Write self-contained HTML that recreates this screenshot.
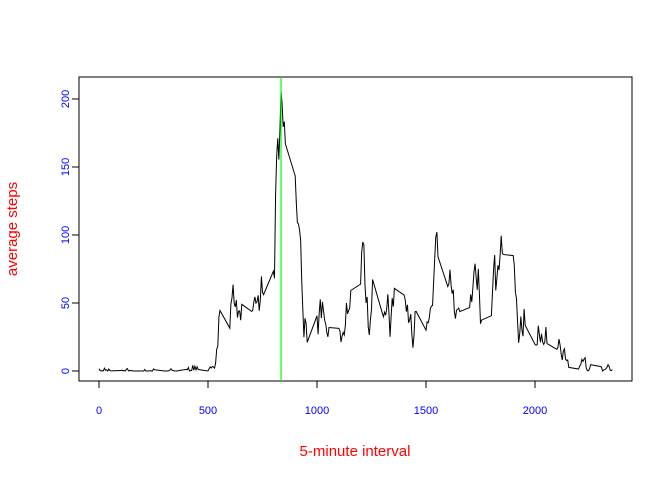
<!DOCTYPE html>
<html><head><meta charset="utf-8"><style>
body{margin:0;background:#fff;}
svg{font-family:"Liberation Sans",Arial,sans-serif;}
</style></head><body>
<svg id="chart" width="672" height="480">
<rect x="79" y="77" width="553" height="304" fill="none" stroke="#000"/>
<g id="axes"></g>
<path id="line" fill="none" stroke="#000" stroke-width="1"/>
<line id="maxline" stroke="#00ff00" stroke-width="1.2"/>
<text x="355" y="456" text-anchor="middle" fill="#ff0000" font-size="15">5-minute interval</text>
<text transform="translate(17,229) rotate(-90)" text-anchor="middle" fill="#ff0000" font-size="15">average steps</text>
</svg>
<script>
const steps=[1.717,0.340,0.132,0.151,0.075,2.094,0.528,0.868,0,1.472,0.302,0.132,0.321,0.679,0.151,0.340,0,1.113,1.830,0.170,0.170,0.377,0.264,0,0,0,1.132,0,0,0.132,0,0.226,0,0,1.547,0.943,0,0,0,0,0.208,0.623,1.623,0.585,0.491,0.075,0,0,1.189,0.943,2.566,0,0.340,0.358,4.113,0.660,3.491,0.830,3.113,1.113,0,1.566,3.000,2.245,3.321,2.962,2.094,6.057,16.019,18.340,39.453,44.491,31.491,49.264,53.774,63.453,49.962,47.075,52.151,39.340,44.019,44.170,37.358,49.038,43.811,44.377,50.509,54.509,49.925,50.981,55.679,44.321,52.264,69.547,57.849,56.151,73.377,68.208,129.434,157.528,171.151,155.396,177.302,206.170,195.925,179.566,183.396,167.019,143.453,124.038,109.113,108.113,103.717,95.962,66.208,45.226,24.792,38.755,34.981,21.057,40.566,26.981,42.415,52.660,38.925,50.792,44.283,37.415,34.698,28.340,25.094,31.943,31.358,29.679,21.321,25.547,28.377,26.472,33.434,49.981,42.038,44.604,46.038,59.189,63.868,87.698,94.849,92.774,63.396,50.170,54.472,32.415,26.528,37.736,45.057,67.283,42.340,39.887,43.264,40.981,46.245,56.434,42.755,25.132,39.962,53.547,47.321,60.811,55.755,51.962,43.585,48.698,35.472,37.547,41.849,27.509,17.113,26.075,43.623,43.774,30.019,36.075,35.491,38.849,45.962,47.755,48.132,65.321,82.906,98.660,102.113,83.962,62.132,64.132,74.547,63.170,56.906,59.774,43.868,38.566,44.660,45.453,46.208,43.679,46.623,56.302,50.717,61.226,72.717,78.943,68.943,59.660,75.094,56.509,34.774,37.453,40.679,58.019,74.698,85.321,59.264,67.774,77.698,74.245,85.340,99.453,86.585,85.604,84.868,77.830,58.038,53.358,36.321,20.717,27.396,40.019,30.208,25.547,45.660,33.528,19.623,19.019,19.340,33.340,26.811,21.170,27.302,21.340,19.547,21.321,32.302,20.151,15.943,17.226,23.453,19.245,12.453,8.019,14.660,16.302,8.679,7.792,8.132,2.623,1.453,3.679,4.811,8.509,7.075,8.698,9.755,2.208,0.321,0.113,1.604,4.604,3.302,2.849,0,0.830,0.962,1.585,2.604,4.698,3.302,0.642,0.226,1.075];
const xTicks=[0,500,1000,1500,2000];
const yTicks=[0,50,100,150,200];
const intervals=[];
for(let h=0;h<24;h++)for(let m=0;m<60;m+=5)intervals.push(h*100+m);
const X=v=>99+v*(535-99)/2000;
const Y=v=>371-v*(371-99)/200;
const ns="http://www.w3.org/2000/svg";
const ax=document.getElementById('axes');
function mk(t,a){const e=document.createElementNS(ns,t);for(const k in a)e.setAttribute(k,a[k]);ax.appendChild(e);return e;}
xTicks.forEach(t=>{
 const l=mk('line',{x1:X(t),x2:X(t),y1:381,y2:388,stroke:'#000'});
 
 
 const tx=mk('text',{x:X(t),y:414,'text-anchor':'middle','font-size':'11',fill:'#0000ff'});
 tx.textContent=t;
 
 
});
yTicks.forEach(t=>{
 const l=mk('line',{x1:72,x2:79,y1:Y(t),y2:Y(t),stroke:'#000'});
 
 
 const tx=mk('text',{transform:`translate(69,${Y(t)}) rotate(-90)`,'text-anchor':'middle','font-size':'11',fill:'#0000ff'});
 tx.textContent=t;
 
 
});
const n=Math.min(steps.length,intervals.length);
let d='';let mi=0;
for(let i=0;i<n;i++){d+=(i?'L':'M')+X(intervals[i]).toFixed(2)+','+Y(steps[i]).toFixed(2);if(steps[i]>steps[mi])mi=i;}
document.getElementById('line').setAttribute('d',d);
const ml=document.getElementById('maxline');
ml.setAttribute('x1',X(intervals[mi]));ml.setAttribute('x2',X(intervals[mi]));
ml.setAttribute('y1',77);ml.setAttribute('y2',381);
</script>
</body></html>
